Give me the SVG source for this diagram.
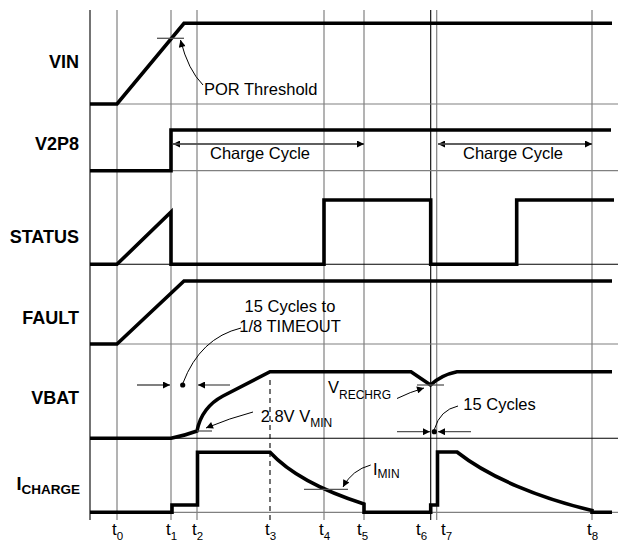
<svg xmlns="http://www.w3.org/2000/svg" width="618" height="542" viewBox="0 0 618 542">
<defs>
<marker id="ah" viewBox="0 0 10 10" refX="10" refY="5" markerWidth="9" markerHeight="7" markerUnits="userSpaceOnUse" orient="auto">
<path d="M0,0 L10,5 L0,10 z" fill="#000"/>
</marker>
</defs>
<style>
.g{stroke:#808080;stroke-width:1.2;fill:none}
.k{stroke:#000;stroke-width:1.1;fill:none}
.sig{stroke:#000;stroke-width:3.6;fill:none;stroke-linejoin:miter;stroke-linecap:butt}
.thr{stroke:#555;stroke-width:1.3;fill:none}
.dim{stroke:#555;stroke-width:1.3;fill:none}
.lead{stroke:#000;stroke-width:1;fill:none}
.lbl{font-family:"Liberation Sans",Arial,sans-serif;font-weight:bold;font-size:18px;fill:#000}
.txt{font-family:"Liberation Sans",Arial,sans-serif;font-size:16.5px;fill:#000}
.tm{font-family:"Liberation Sans",Arial,sans-serif;font-size:17px;fill:#000}
</style>
<rect width="618" height="542" fill="#fff"/>
<g id="grid">
<line class="g" x1="117" y1="10" x2="117" y2="520"/>
<line class="g" x1="171" y1="10" x2="171" y2="520"/>
<line class="g" x1="197" y1="10" x2="197" y2="520"/>
<line class="g" x1="324" y1="10" x2="324" y2="520"/>
<line class="g" x1="364" y1="10" x2="364" y2="520"/>
<line class="k" x1="430.7" y1="10" x2="430.7" y2="520"/>
<line class="g" x1="436.7" y1="10" x2="436.7" y2="520"/>
<line class="g" x1="592" y1="10" x2="592" y2="520"/>
<line class="k" x1="270" y1="380" x2="270" y2="522" stroke-dasharray="5,4"/>
<line class="g" x1="90" y1="104" x2="618" y2="104"/>
<line class="g" x1="90" y1="170.7" x2="618" y2="170.7"/>
<line class="k" x1="90" y1="264.3" x2="618" y2="264.3"/>
<line class="g" x1="90" y1="344" x2="618" y2="344"/>
<line class="k" x1="90" y1="438.3" x2="618" y2="438.3"/>
<line class="g" x1="90" y1="512.3" x2="618" y2="512.3"/>
<line class="k" x1="90" y1="10" x2="90" y2="520"/>
</g>
<g id="labels">
<text class="lbl" x="79" y="68" text-anchor="end">VIN</text>
<text class="lbl" x="79" y="150" text-anchor="end">V2P8</text>
<text class="lbl" x="79" y="243" text-anchor="end">STATUS</text>
<text class="lbl" x="79" y="324" text-anchor="end">FAULT</text>
<text class="lbl" x="79" y="404" text-anchor="end">VBAT</text>
<text class="lbl" x="80" y="490" text-anchor="end">I<tspan font-size="13.5px" dy="3.5">CHARGE</tspan></text>
</g>
<g id="VIN">
<path class="sig" d="M90,104 L117,104 L184,23.3 L612,23.3"/>
<line class="thr" x1="157" y1="38.3" x2="184" y2="38.3"/>
</g>
<g id="V2P8">
<path class="sig" d="M90,170.7 L171,170.7 L171,130 L611,130"/>
</g>
<g id="STATUS">
<path class="sig" d="M90,264.3 L117,264.3 L171,212 L171,264.3 L324,264.3 L324,200 L430.7,200 L430.7,264.3 L516.7,264.3 L516.7,200 L614,200"/>
</g>
<g id="FAULT">
<path class="sig" d="M90,344 L117,344 L184,281 L612,281"/>
</g>
<g id="VBAT">
<path class="sig" d="M90,438.3 L171,438.3 Q185,435.5 197,431 C199.5,418 206,405 223,396 L270,371.7 L411,371.7 L430.5,385 Q441,375 457,371.7 L612,371.7"/>
<line class="thr" x1="197" y1="431" x2="212" y2="431"/>
<line class="thr" x1="417" y1="385" x2="444" y2="385"/>
</g>
<g id="ICHARGE">
<path class="sig" d="M90,512.3 L172,512.3 L172,505 L197.5,505 L197.5,452.3 L270,452.3 C290,474 320,490 364,504 L364,512.3 L430.7,512.3 L430.7,505 L437.5,505 L437.5,452 L457,452 C490,478 540,498 592,510.5 L592,512.3 L612,512.3"/>
<line class="thr" x1="304" y1="489.3" x2="348" y2="489.3"/>
</g>
<g id="connectors">
<line class="dim" x1="364" y1="144" x2="173" y2="144" marker-end="url(#ah)"/>
<line class="dim" x1="173" y1="144" x2="364" y2="144" marker-end="url(#ah)"/>
<line class="dim" x1="592" y1="144" x2="438" y2="144" marker-end="url(#ah)"/>
<line class="dim" x1="438" y1="144" x2="592" y2="144" marker-end="url(#ah)"/>
<path class="lead" d="M203,85 Q188,70 180.5,40" marker-end="url(#ah)"/>
<line class="dim" x1="137" y1="385" x2="170" y2="385" marker-end="url(#ah)"/>
<line class="dim" x1="230" y1="385" x2="198" y2="385" marker-end="url(#ah)"/>
<circle cx="182.7" cy="385" r="2.6" fill="#000"/>
<path class="lead" d="M241,328 Q200,338 183,383"/>
<path class="lead" d="M253,412 Q230,418 206,428" marker-end="url(#ah)"/>
<path class="lead" d="M397,398.5 Q410,392 424,388" marker-end="url(#ah)"/>
<line class="dim" x1="397" y1="431.7" x2="430" y2="431.7" marker-end="url(#ah)"/>
<line class="dim" x1="471" y1="431.7" x2="438" y2="431.7" marker-end="url(#ah)"/>
<circle cx="434.3" cy="431.7" r="2.6" fill="#000"/>
<path class="lead" d="M458,406 Q440,410 434.5,429"/>
<path class="lead" d="M370.7,465 Q352,470 343,487" marker-end="url(#ah)"/>
</g>
<g id="annotations">
<text class="txt" x="204" y="95">POR Threshold</text>
<text class="txt" x="260" y="159" text-anchor="middle">Charge Cycle</text>
<text class="txt" x="513" y="159" text-anchor="middle">Charge Cycle</text>
<text class="txt" x="290" y="311.7" text-anchor="middle">15 Cycles to</text>
<text class="txt" x="290" y="331.7" text-anchor="middle">1/8 TIMEOUT</text>
<text class="txt" x="260.7" y="421.7">2.8V V<tspan font-size="12px" dy="5">MIN</tspan></text>
<text class="txt" x="328" y="393">V<tspan font-size="12px" dy="6">RECHRG</tspan></text>
<text class="txt" x="463.3" y="410">15 Cycles</text>
<text class="txt" x="373" y="474.5">I<tspan font-size="12px" dy="3">MIN</tspan></text>
</g>
<g id="times">
<text class="tm" x="112" y="535">t<tspan font-size="11.5px" dy="5">0</tspan></text>
<text class="tm" x="166" y="535">t<tspan font-size="11.5px" dy="5">1</tspan></text>
<text class="tm" x="192" y="535">t<tspan font-size="11.5px" dy="5">2</tspan></text>
<text class="tm" x="265" y="535">t<tspan font-size="11.5px" dy="5">3</tspan></text>
<text class="tm" x="319" y="535">t<tspan font-size="11.5px" dy="5">4</tspan></text>
<text class="tm" x="357" y="535">t<tspan font-size="11.5px" dy="5">5</tspan></text>
<text class="tm" x="416" y="535">t<tspan font-size="11.5px" dy="5">6</tspan></text>
<text class="tm" x="441" y="535">t<tspan font-size="11.5px" dy="5">7</tspan></text>
<text class="tm" x="587" y="535">t<tspan font-size="11.5px" dy="5">8</tspan></text>
</g>
</svg>
